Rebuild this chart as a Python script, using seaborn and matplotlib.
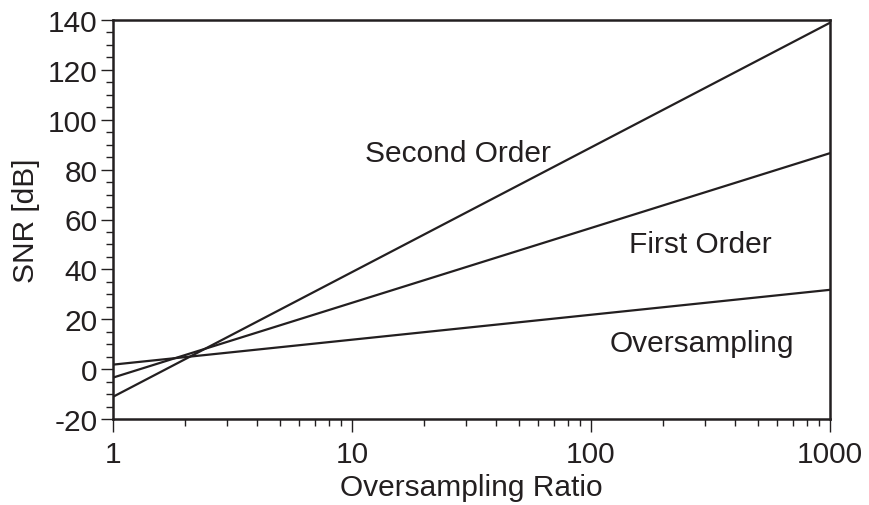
import matplotlib
matplotlib.use("Agg")
import matplotlib.pyplot as plt
import matplotlib.ticker as mticker
import numpy as np
import pandas as pd
import seaborn as sns

# Data (straight lines on a log axis: endpoint values)
osr = [1, 1000]
snr_oversampling = [1.8, 31.8]
snr_first = [-3.4, 86.6]
snr_second = [-11.1, 138.9]
series_names = ["Oversampling", "First Order", "Second Order"]
x_ticks = [1, 10, 100, 1000]
x_ticklabels = ["1", "10", "100", "1000"]
y_ticks = [-20, 0, 20, 40, 60, 80, 100, 120, 140]
y_ticklabels = ["-20", "0", "20", "40", "60", "80", "100", "120", "140"]

df = pd.DataFrame({
    "OSR": osr * 3,
    "SNR": snr_oversampling + snr_first + snr_second,
    "series": [series_names[0]] * 2 + [series_names[1]] * 2 + [series_names[2]] * 2,
})

sns.set_style("ticks")
plt.rcParams["font.family"] = ["Liberation Sans", "DejaVu Sans"]
plt.rcParams["axes.unicode_minus"] = False

ink = "#231f20"
fs = 21.5
fig = plt.figure(figsize=(8.7, 5.06), dpi=100)
ax = fig.add_axes([113 / 870, 1 - 420 / 506, (830 - 113) / 870, (420 - 21) / 506])

sns.lineplot(data=df, x="OSR", y="SNR", hue="series",
             palette={n: ink for n in series_names}, linewidth=1.6,
             legend=False, ax=ax)

ax.set_xscale("log")
ax.set_xlim(1, 1000)
ax.set_ylim(-20, 140)
ax.set_xticks(x_ticks)
ax.set_xticklabels(x_ticklabels)
ax.xaxis.set_minor_locator(mticker.LogLocator(base=10, subs=np.arange(2, 10)))
ax.xaxis.set_minor_formatter(mticker.NullFormatter())
ax.set_yticks(y_ticks)
ax.set_yticklabels(y_ticklabels)
ax.yaxis.set_minor_locator(mticker.MultipleLocator(5))

for s in ax.spines.values():
    s.set_visible(True)
    s.set_linewidth(1.8)
    s.set_color(ink)

ax.tick_params(which="major", direction="out", length=9, width=1.0, color=ink,
               labelsize=fs, labelcolor=ink, pad=2)
ax.tick_params(which="minor", direction="out", length=5, width=1.0, color=ink)
ax.tick_params(axis="x", which="major", pad=6)
ax.tick_params(axis="x", which="both", top=False)
ax.tick_params(axis="y", which="both", right=False)

ax.set_xlabel("Oversampling Ratio", fontsize=fs, color=ink, labelpad=4)
ax.set_ylabel("SNR [dB]", fontsize=fs, color=ink, labelpad=6)

ax.text(27.8, 83.5, "Second Order", fontsize=fs, color=ink, ha="center", va="baseline")
ax.text(286, 47, "First Order", fontsize=fs, color=ink, ha="center", va="baseline")
ax.text(291, 7.3, "Oversampling", fontsize=fs, color=ink, ha="center", va="baseline")

fig.savefig("out.png", dpi=100)
